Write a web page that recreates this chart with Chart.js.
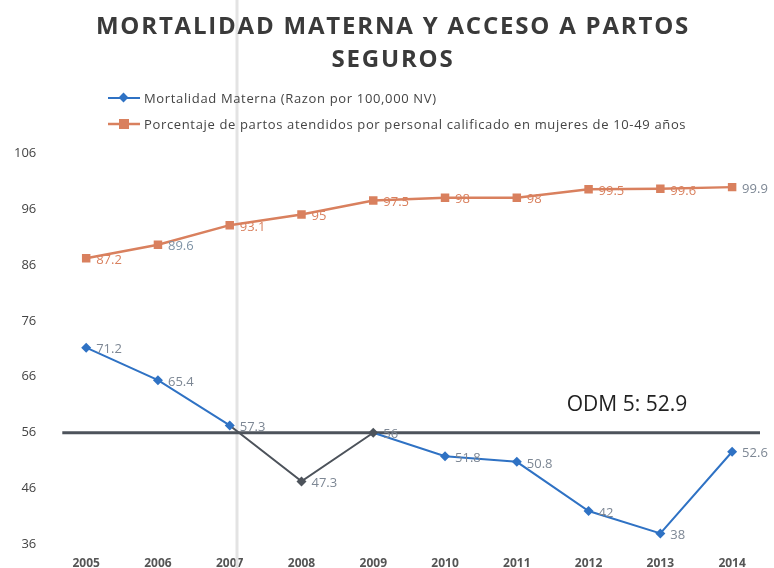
<!DOCTYPE html>
<html>
<head>
<meta charset="utf-8">
<script src="https://cdn.jsdelivr.net/npm/chart.js@4.4.1/dist/chart.umd.min.js"></script>
<style>
  body { margin: 0; background: #fff; }
  #wrap { position: relative; width: 774px; height: 568px; }
  #title {
    position: absolute; top: 8px; left: 6px; width: 774px; text-align: center;
    font: bold 24px "Open Sans", sans-serif; color: #3a3a3a; line-height: 33px; letter-spacing: 1.8px;
  }
  .leg {
    position: absolute; left: 108px; font: 13px "Open Sans", sans-serif; color: #444;
    letter-spacing: 0.65px; display: flex; align-items: center; white-space: nowrap;
  }
  .leg svg { margin-right: 4px; }
</style>
</head>
<body>
<div id="wrap">
  <canvas id="chart" width="774" height="568"></canvas>
  <div id="title">MORTALIDAD MATERNA Y ACCESO A PARTOS<br>SEGUROS</div>
  <div class="leg" style="top:89px">
    <svg width="32" height="12"><line x1="0" y1="6" x2="32" y2="6" stroke="#2f72c4" stroke-width="2"/><rect x="12" y="2" width="7" height="7" fill="#2f72c4" transform="rotate(45 15.5 5.5)"/></svg>
    Mortalidad Materna (Razon por 100,000 NV)
  </div>
  <div class="leg" style="top:115px">
    <svg width="32" height="12"><line x1="0" y1="6" x2="32" y2="6" stroke="#d9805e" stroke-width="2.5"/><rect x="11" y="1" width="10" height="10" fill="#d9805e"/></svg>
    Porcentaje de partos atendidos por personal calificado en mujeres de 10-49 años
  </div>
</div>
<script>
const years = ['2005', '2006', '2007', '2008', '2009', '2010', '2011', '2012', '2013', '2014'];
const mortalidad = [71.2, 65.4, 57.3, 47.3, 56, 51.8, 50.8, 42, 38, 52.6];
const partos = [87.2, 89.6, 93.1, 95, 97.5, 98, 98, 99.5, 99.6, 99.9];
const odmValue = 56;
const odmText = 'ODM 5: 52.9';
const yMin = 36, yMax = 106, yStep = 10;

const blue = '#2f72c4';
const gray = '#4d535b';
const orange = '#d9805e';
const labelGray = '#7d8794';

const mortalidadLabelColors = mortalidad.map(() => labelGray);
const partosLabelColors = [orange, '#7f93a6', orange, orange, orange, orange, orange, orange, orange, labelGray];

// ODM line, the pale fold line and the value labels
const extras = {
    id: 'extras',
    beforeDatasetsDraw(chart) {
        const ctx = chart.ctx;
        const y = chart.scales.y.getPixelForValue(odmValue);
        ctx.save();
        ctx.strokeStyle = '#e3e3e3';
        ctx.lineWidth = 3;
        ctx.beginPath();
        ctx.moveTo(237, 0);
        ctx.lineTo(237, chart.height);
        ctx.stroke();
        ctx.strokeStyle = gray;
        ctx.lineWidth = 3;
        ctx.beginPath();
        ctx.moveTo(chart.chartArea.left + 12, y);
        ctx.lineTo(chart.chartArea.right - 8, y);
        ctx.stroke();
        ctx.fillStyle = '#222';
        ctx.font = '21px "Open Sans"';
        ctx.textAlign = 'center';
        ctx.textBaseline = 'middle';
        ctx.fillText(odmText, 627, 405);
        ctx.restore();
    },
    afterDatasetsDraw(chart) {
        const ctx = chart.ctx;
        const colors = [mortalidadLabelColors, partosLabelColors];
        ctx.save();
        ctx.font = '13px "Open Sans"';
        ctx.textAlign = 'left';
        ctx.textBaseline = 'middle';
        chart.data.datasets.forEach((ds, i) => {
            chart.getDatasetMeta(i).data.forEach((pt, j) => {
                ctx.fillStyle = colors[i][j];
                ctx.fillText(ds.data[j], pt.x + 10, pt.y + 2);
            });
        });
        ctx.restore();
    }
};

new Chart(document.getElementById('chart'), {
    type: 'line',
    data: {
        labels: years,
        datasets: [{
            label: 'Mortalidad Materna (Razon por 100,000 NV)',
            data: mortalidad,
            borderColor: blue,
            borderWidth: 2,
            pointStyle: 'rectRot',
            pointRadius: 5,
            pointBackgroundColor: mortalidad.map((v, i) => (i === 3 || i === 4) ? gray : blue),
            pointBorderWidth: 0,
            segment: {
                borderColor: c => (c.p0DataIndex >= 2 && c.p1DataIndex <= 4) ? gray : undefined
            }
        }, {
            label: 'Porcentaje de partos atendidos por personal calificado en mujeres de 10-49 años',
            data: partos,
            borderColor: orange,
            borderWidth: 2.5,
            pointStyle: 'rect',
            pointRadius: 6,
            pointBackgroundColor: orange,
            pointBorderWidth: 0
        }]
    },
    options: {
        responsive: false,
        animation: false,
        layout: { padding: { top: 153, left: 0, right: 6, bottom: -15 } },
        plugins: {
            legend: { display: false },
            title: { display: false },
            tooltip: { enabled: false }
        },
        scales: {
            x: {
                offset: true,
                grid: { display: false, drawTicks: false },
                border: { display: false },
                ticks: { color: '#555', padding: 12, font: { family: 'Open Sans', size: 12, weight: 'bold' } }
            },
            y: {
                min: yMin,
                max: yMax,
                grid: { display: false, drawTicks: false },
                border: { display: false },
                ticks: { stepSize: yStep, color: '#444', padding: 14, font: { family: 'Open Sans', size: 13 } }
            }
        }
    },
    plugins: [extras]
});
</script>
</body>
</html>
